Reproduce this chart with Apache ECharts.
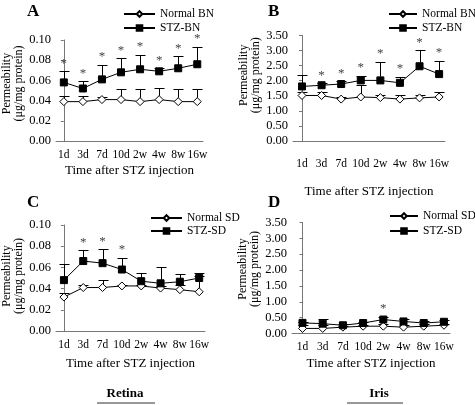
<!DOCTYPE html>
<html>
<head>
<meta charset="utf-8">
<script src="https://cdn.jsdelivr.net/npm/echarts@6/dist/echarts.min.js"></script>
<style>
html,body{margin:0;padding:0;background:#fff;}
#chart{width:475px;height:405px;}
</style>
</head>
<body>
<div id="chart"></div>
<script>
// ---------- data ----------
const categories = ['1d', '3d', '7d', '10d', '2w', '4w', '8w', '16w'];

// A: Retina, BN rats (μg/mg protein)
const retinaNormalBN = [0.039, 0.039, 0.041, 0.041, 0.039, 0.041, 0.039, 0.039];
const retinaNormalBNsd = [0.006, 0.006, 0.003, 0.010, 0.012, 0.011, 0.012, 0.012];
const retinaStzBN = [0.058, 0.052, 0.061, 0.068, 0.071, 0.069, 0.072, 0.076];
const retinaStzBNsd = [0.011, 0.007, 0.0145, 0.014, 0.0145, 0.003, 0.012, 0.017];
const retinaBNstars = [1, 1, 1, 1, 1, 1, 1, 1];

// B: Iris, BN rats
const irisNormalBN = [1.51, 1.51, 1.39, 1.46, 1.44, 1.39, 1.43, 1.46];
const irisNormalBNsd = [0.12, 0.12, 0.08, 0.40, 0.10, 0.15, 0.11, 0.17];
const irisStzBN = [1.81, 1.85, 1.89, 2.01, 2.01, 1.93, 2.48, 2.22];
const irisStzBNsd = [0.39, 0.07, 0.09, 0.16, 0.62, 0.20, 0.53, 0.45];
const irisBNstars = [0, 1, 1, 1, 1, 1, 1, 1];

// C: Retina, SD rats
const retinaNormalSD = [0.032, 0.041, 0.041, 0.0425, 0.0425, 0.0405, 0.039, 0.037];
const retinaNormalSDsd = [0.0035, 0.002, 0.007, 0.001, 0.001, 0.002, 0.004, 0.015];
const retinaStzSD = [0.048, 0.066, 0.064, 0.058, 0.047, 0.045, 0.0465, 0.050];
const retinaStzSDsd = [0.0154, 0.010, 0.013, 0.011, 0.008, 0.015, 0.0075, 0.005];
const retinaSDstars = [0, 1, 1, 1, 0, 0, 0, 0];

// D: Iris, SD rats
const irisNormalSD = [0.16, 0.16, 0.20, 0.23, 0.23, 0.20, 0.23, 0.26];
const irisNormalSDsd = [0.10, 0.10, 0.04, 0.05, 0.06, 0.06, 0.06, 0.05];
const irisStzSD = [0.335, 0.31, 0.26, 0.33, 0.44, 0.38, 0.33, 0.37];
const irisStzSDsd = [0.03, 0.15, 0.03, 0.04, 0.08, 0.08, 0.05, 0.05];
const irisSDstars = [0, 0, 0, 0, 1, 0, 0, 0];

// ---------- layout ----------
const FONT = '"Liberation Serif", "Times New Roman", serif';
const panels = [
  { letter: 'A', names: ['Normal BN', 'STZ-BN'], normal: retinaNormalBN, normalSd: retinaNormalBNsd, stz: retinaStzBN, stzSd: retinaStzBNsd, stars: retinaBNstars,
    grid: { left: 54, top: 40, width: 149, height: 101 }, xmin: -0.41, xmax: 7.3, ymax: 0.10, yint: 0.02,
    labelMargin: 8, nameGap: 23, yNameShift: 7, letterPos: [27, 3], legend: [123, 8], legendGap: 2, legendW: 31 },
  { letter: 'B', names: ['Normal BN', 'STZ-BN'], normal: irisNormalBN, normalSd: irisNormalBNsd, stz: irisStzBN, stzSd: irisStzBNsd, stars: irisBNstars,
    grid: { left: 293, top: 35.5, width: 152, height: 105.5 }, xmin: -0.46, xmax: 7.3, ymax: 3.5, yint: 0.5,
    labelMargin: 17, nameGap: 44, yNameShift: 13, letterPos: [268, 3], legend: [388, 8], legendGap: 2, legendW: 28 },
  { letter: 'C', names: ['Normal SD', 'STZ-SD'], normal: retinaNormalSD, normalSd: retinaNormalSDsd, stz: retinaStzSD, stzSd: retinaStzSDsd, stars: retinaSDstars,
    grid: { left: 53, top: 225, width: 152, height: 106 }, xmin: -0.41, xmax: 7.3, ymax: 0.10, yint: 0.02,
    labelMargin: 8, nameGap: 26, yNameShift: 2, letterPos: [27, 194], legend: [150, 212], legendGap: 1, legendW: 31 },
  { letter: 'D', names: ['Normal SD', 'STZ-SD'], normal: irisNormalSD, normalSd: irisNormalSDsd, stz: irisStzSD, stzSd: irisStzSDsd, stars: irisSDstars,
    grid: { left: 292, top: 222.5, width: 158, height: 111 }, xmin: -0.52, xmax: 7.3, ymax: 3.5, yint: 0.5,
    labelMargin: 7, nameGap: 24, yNameShift: 9, letterPos: [268, 194], legend: [389, 210], legendGap: 3, legendW: 28 }
];

const grids = [], xAxes = [], yAxes = [], series = [], legends = [], titles = [];

function errSeries(i, vals, sd) {
  return {
    type: 'custom', xAxisIndex: i, yAxisIndex: i, silent: true, z: 1,
    data: vals.map((v, k) => [k, v, v + sd[k]]),
    encode: { x: 0, y: [1, 2] },
    renderItem: function (params, api) {
      const p0 = api.coord([api.value(0), api.value(1)]);
      const p1 = api.coord([api.value(0), api.value(2)]);
      const x = Math.round(p0[0]) + 0.5;
      const yc = Math.round(p1[1]) + 0.5;
      return { type: 'group', children: [
        { type: 'line', shape: { x1: x, y1: p0[1], x2: x, y2: yc }, style: { stroke: '#000', lineWidth: 1 } },
        { type: 'line', shape: { x1: x - 5, y1: yc, x2: x + 5, y2: yc }, style: { stroke: '#000', lineWidth: 1 } }
      ] };
    }
  };
}

function starSeries(i, vals, sd, stars) {
  const d = [];
  vals.forEach((v, k) => { if (stars[k]) d.push([k, v + sd[k]]); });
  return {
    type: 'custom', xAxisIndex: i, yAxisIndex: i, silent: true, z: 3,
    data: d, encode: { x: 0, y: 1 },
    renderItem: function (params, api) {
      const p = api.coord([api.value(0), api.value(1)]);
      return { type: 'text', style: { text: '*', x: p[0], y: p[1] - 8, align: 'center', verticalAlign: 'middle',
        font: '13px ' + FONT, fill: '#444' } };
    }
  };
}

panels.forEach((p, i) => {
  grids.push(Object.assign({ containLabel: false }, p.grid));
  xAxes.push({
    type: 'value', gridIndex: i, min: p.xmin, max: p.xmax,
    axisLine: { show: true, lineStyle: { color: '#777', width: 1 } },
    axisTick: { show: false },
    splitLine: { show: false },
    axisLabel: { customValues: categories.map((c, k) => k), formatter: v => categories[Math.round(v)],
      showMinLabel: true, showMaxLabel: true, hideOverlap: false,
      color: '#000', fontFamily: FONT, fontSize: 11.5, margin: p.labelMargin },
    name: 'Time after STZ injection', nameLocation: 'middle', nameGap: p.nameGap,
    nameTextStyle: { color: '#000', fontFamily: FONT, fontSize: 13 }
  });
  yAxes.push({
    type: 'value', gridIndex: i, min: 0, max: p.ymax, interval: p.yint,
    axisLine: { show: true, lineStyle: { color: '#777', width: 1 } },
    axisTick: { show: true, length: 3, lineStyle: { color: '#777' } },
    splitLine: { show: false },
    axisLabel: { formatter: v => v.toFixed(2), color: '#000', fontFamily: FONT, fontSize: 12.5, margin: 5 },
    name: 'Permeability\n(μg/mg protein)', nameLocation: 'middle', nameRotate: 90, nameGap: 31,
    nameTextStyle: { color: '#000', fontFamily: FONT, fontSize: 12, lineHeight: 12, padding: [0, 0, 0, 2 * p.yNameShift] }
  });
  series.push(errSeries(i, p.normal, p.normalSd));
  series.push(errSeries(i, p.stz, p.stzSd));
  series.push({
    name: p.names[0], type: 'line', xAxisIndex: i, yAxisIndex: i, z: 2,
    data: p.normal.map((v, k) => [k, v]),
    symbol: 'diamond', symbolSize: 8, showAllSymbol: true,
    lineStyle: { color: '#000', width: 1 },
    itemStyle: { color: '#fff', borderColor: '#000', borderWidth: 1 }
  });
  series.push({
    name: p.names[1], type: 'line', xAxisIndex: i, yAxisIndex: i, z: 2,
    data: p.stz.map((v, k) => [k, v]),
    symbol: 'rect', symbolSize: 7, showAllSymbol: true,
    lineStyle: { color: '#000', width: 1 },
    itemStyle: { color: '#000', borderColor: '#000', borderWidth: 1 }
  });
  series.push(starSeries(i, p.stz, p.stzSd, p.stars));
  legends.push({
    orient: 'vertical', left: p.legend[0], top: p.legend[1], data: p.names, padding: 0,
    itemWidth: p.legendW, itemHeight: 7, itemGap: p.legendGap, selectedMode: false,
    textStyle: { color: '#000', fontFamily: FONT, fontSize: 11.5 }
  });
  titles.push({ text: p.letter, left: p.letterPos[0], top: p.letterPos[1], padding: 0,
    textStyle: { color: '#000', fontFamily: FONT, fontSize: 17, fontWeight: 'bold' } });
});

titles.push({ text: 'Retina', left: 125, top: 387, textAlign: 'center', padding: 0,
  textStyle: { color: '#000', fontFamily: FONT, fontSize: 13, fontWeight: 'bold' } });
titles.push({ text: 'Iris', left: 379, top: 387, textAlign: 'center', padding: 0,
  textStyle: { color: '#000', fontFamily: FONT, fontSize: 13, fontWeight: 'bold' } });

const chart = echarts.init(document.getElementById('chart'), null, { renderer: 'canvas' });
chart.setOption({
  animation: false,
  backgroundColor: '#fff',
  title: titles,
  legend: legends,
  grid: grids,
  xAxis: xAxes,
  yAxis: yAxes,
  series: series,
  graphic: [
    { type: 'line', shape: { x1: 97, y1: 403, x2: 155, y2: 403 }, style: { stroke: '#333', lineWidth: 1.2 } },
    { type: 'line', shape: { x1: 347, y1: 403, x2: 403, y2: 403 }, style: { stroke: '#333', lineWidth: 1.2 } }
  ]
});
</script>
</body>
</html>
